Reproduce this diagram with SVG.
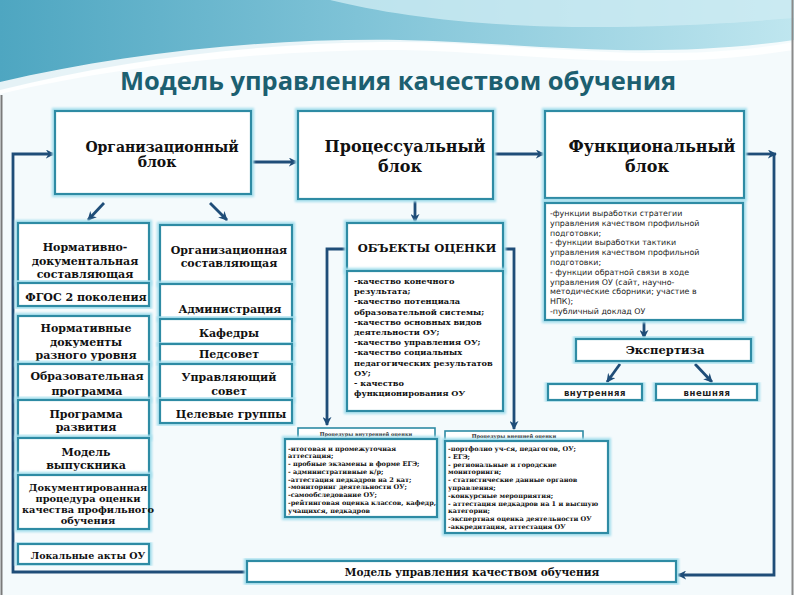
<svg xmlns="http://www.w3.org/2000/svg" width="794" height="595" viewBox="0 0 794 595">
<defs>
<linearGradient id="sky" x1="0" y1="0" x2="1" y2="0">
<stop offset="0" stop-color="#4ea6c1"/>
<stop offset="0.45" stop-color="#7fc3d7"/>
<stop offset="1" stop-color="#bfe6ef"/>
</linearGradient>
<filter id="glow" x="-10%" y="-10%" width="120%" height="120%">
<feMorphology in="SourceAlpha" operator="dilate" radius="1.5" result="d"/>
<feGaussianBlur in="d" stdDeviation="1" result="b"/>
<feFlood flood-color="#a8e0ee"/>
<feComposite in2="b" operator="in" result="c"/>
<feMerge><feMergeNode in="c"/><feMergeNode in="SourceGraphic"/></feMerge>
</filter>
<marker id="ah" viewBox="0 0 10 10" refX="9" refY="5" markerWidth="9" markerHeight="9" markerUnits="userSpaceOnUse" orient="auto">
<path d="M0,0 L10,5 L0,10 L3,5 Z" fill="#1f4d78"/>
</marker>
</defs>
<style>
.box{fill:#ffffff;stroke:#2e8ba4;stroke-width:2.2;filter:url(#glow)}
.thin{fill:#ffffff;stroke:#2e8ba4;stroke-width:1.6}
.con{fill:none;stroke:#1f4d78;stroke-width:2.8;marker-end:url(#ah)}
.sb{font-family:"DejaVu Serif","Liberation Serif",serif;font-weight:bold;fill:#111;text-anchor:middle}
.sl{font-family:"DejaVu Serif","Liberation Serif",serif;font-weight:bold;fill:#111}
.ss{font-family:"DejaVu Sans","Liberation Sans",sans-serif;fill:#222}
</style>
<rect width="794" height="595" fill="#f4fafc"/>
<path d="M0,0 H794 V42 C650,68 520,40 380,42 C250,44 120,60 0,90 Z" fill="url(#sky)"/>
<path d="M330,0 C420,22 560,38 794,18 V0 Z" fill="#cdebf3" opacity="0.8"/>
<path d="M0,82 C120,54 260,38 400,40 C520,42 640,62 794,40 L794,50 C640,74 520,52 400,50 C260,50 120,66 0,94 Z" fill="#ffffff" opacity="0.85"/>
<line x1="1.5" y1="95" x2="1.5" y2="595" stroke="#7a7a7a" stroke-width="2"/>
<line x1="792.5" y1="0" x2="792.5" y2="595" stroke="#8a8a8a" stroke-width="2"/>
<text x="398" y="90" font-family="'Open Sans','Noto Sans',sans-serif" font-weight="bold" font-size="25.5" fill="#1c5f70" text-anchor="middle">Модель управления качеством обучения</text>
<g id="connectors">
<path class="con" d="M246,572 H13 V154 H54"/>
<path class="con" d="M251,162 H297"/>
<path class="con" d="M493,154 H544"/>
<path class="con" d="M744,154 H776"/>
<path class="con" d="M774,154 V575 H678"/>
<path class="con" d="M104,203 L88,220"/>
<path class="con" d="M210,203 L227,220"/>
<path class="con" d="M415,200 V222"/>
<path class="con" d="M347,249 H327 V425"/>
<path class="con" d="M503,249 H514 V429"/>
<path class="con" d="M644,320 V338"/>
<path class="con" d="M620,364 L607,382"/>
<path class="con" d="M695,364 L712,382"/>
</g>
<g id="org-block">
<rect class="box" x="55" y="111" width="196" height="83"/>
<text class="sb" x="162" y="152" font-size="14">Организационный</text>
<text class="sb" x="157" y="167" font-size="14">блок</text>
</g>
<g id="proc-block">
<rect class="box" x="298" y="111" width="195" height="88"/>
<text class="sb" x="405" y="152" font-size="16">Процессуальный</text>
<text class="sb" x="400" y="172" font-size="16">блок</text>
</g>
<g id="func-block">
<rect class="box" x="545" y="111" width="199" height="87"/>
<text class="sb" x="652" y="152" font-size="16">Функциональный</text>
<text class="sb" x="647" y="172" font-size="16">блок</text>
</g>
<g id="norm-doc">
<rect class="box" x="18" y="223" width="131" height="60"/>
<text class="sb" x="85" y="251" font-size="11">Нормативно-</text>
<text class="sb" x="85" y="265" font-size="11">документальная</text>
<text class="sb" x="85" y="278" font-size="11">составляющая</text>
</g>
<g id="fgos">
<rect class="box" x="18" y="283" width="131" height="23"/>
<text class="sb" x="86" y="301" font-size="11">ФГОС 2 поколения</text>
</g>
<g id="norm-levels">
<rect class="box" x="18" y="316" width="131" height="48"/>
<text class="sb" x="86" y="332" font-size="11">Нормативные</text>
<text class="sb" x="86" y="346" font-size="11">документы</text>
<text class="sb" x="86" y="359" font-size="11">разного уровня</text>
</g>
<g id="edu-program">
<rect class="box" x="18" y="364" width="131" height="36"/>
<text class="sb" x="87" y="380" font-size="11">Образовательная</text>
<text class="sb" x="87" y="395" font-size="11">программа</text>
</g>
<g id="dev-program">
<rect class="box" x="18" y="400" width="131" height="38"/>
<text class="sb" x="86" y="418" font-size="11">Программа</text>
<text class="sb" x="86" y="431" font-size="11">развития</text>
</g>
<g id="graduate-model">
<rect class="box" x="18" y="438" width="131" height="37"/>
<text class="sb" x="86" y="456" font-size="11">Модель</text>
<text class="sb" x="86" y="469" font-size="11">выпускника</text>
</g>
<g id="doc-procedure">
<rect class="box" x="18" y="475" width="131" height="54"/>
<text class="sb" x="88" y="491" font-size="9.8">Документированная</text>
<text class="sb" x="88" y="502" font-size="9.8">процедура оценки</text>
<text class="sb" x="88" y="513" font-size="9.8">качества профильного</text>
<text class="sb" x="88" y="524" font-size="9.8">обучения</text>
</g>
<g id="local-acts">
<rect class="box" x="18" y="544" width="131" height="20"/>
<text class="sb" x="88" y="559" font-size="9.5">Локальные акты ОУ</text>
</g>
<g id="org-component">
<rect class="box" x="160" y="225" width="132" height="59"/>
<text class="sb" x="229" y="254" font-size="11">Организационная</text>
<text class="sb" x="229" y="267" font-size="11">составляющая</text>
</g>
<g id="administration">
<rect class="box" x="160" y="284" width="132" height="35"/>
<text class="sb" x="230" y="313" font-size="11">Администрация</text>
</g>
<g id="departments">
<rect class="box" x="160" y="319" width="132" height="25"/>
<text class="sb" x="229" y="337" font-size="11">Кафедры</text>
</g>
<g id="pedsovet">
<rect class="box" x="160" y="344" width="132" height="20"/>
<text class="sb" x="229" y="358" font-size="11">Педсовет</text>
</g>
<g id="board">
<rect class="box" x="160" y="364" width="132" height="36"/>
<text class="sb" x="229" y="381" font-size="11">Управляющий</text>
<text class="sb" x="229" y="395" font-size="11">совет</text>
</g>
<g id="target-groups">
<rect class="box" x="160" y="400" width="132" height="23"/>
<text class="sb" x="231" y="418" font-size="11">Целевые группы</text>
</g>
<g id="objects">
<rect class="box" x="347" y="223" width="156" height="48"/>
<text class="sb" x="427" y="252" font-size="11.5">ОБЪЕКТЫ ОЦЕНКИ</text>
<rect class="box" x="347" y="271" width="156" height="140"/>
<g class="sl" font-size="8.2">
<text x="354" y="284">-качество конечного</text>
<text x="354" y="294.2">результата;</text>
<text x="354" y="304.4">-качество потенциала</text>
<text x="354" y="314.6">образовательной системы;</text>
<text x="354" y="324.8">-качество основных видов</text>
<text x="354" y="335">деятельности ОУ;</text>
<text x="354" y="345.2">-качество управления ОУ;</text>
<text x="354" y="355.4">-качество социальных</text>
<text x="354" y="365.6">педагогических результатов</text>
<text x="354" y="375.8">ОУ;</text>
<text x="354" y="386">- качество</text>
<text x="354" y="396.2">функционирования ОУ</text>
</g>
</g>
<g id="internal-procedures">
<rect class="thin" x="298" y="428" width="137" height="11"/>
<text class="sb" x="366" y="436" font-size="5">Процедуры внутренней оценки</text>
<rect class="box" x="285" y="439" width="152" height="78"/>
<g class="sl" font-size="6.5">
<text x="288" y="450.5">-итоговая и промежуточная</text>
<text x="288" y="458.2">аттестация;</text>
<text x="288" y="466">- пробные экзамены в форме ЕГЭ;</text>
<text x="288" y="473.7">- административные к/р;</text>
<text x="288" y="481.5">-аттестация педкадров на 2 кат;</text>
<text x="288" y="489.2">-мониторинг деятельности ОУ;</text>
<text x="288" y="497">-самообследование ОУ;</text>
<text x="288" y="504.7">-рейтинговая оценка классов, кафедр,</text>
<text x="288" y="512.5">учащихся, педкадров</text>
</g>
</g>
<g id="external-procedures">
<rect class="thin" x="445" y="431" width="138" height="10"/>
<text class="sb" x="514" y="438" font-size="5">Процедуры внешней оценки</text>
<rect class="box" x="445" y="441" width="163" height="92"/>
<g class="sl" font-size="6.5">
<text x="448" y="451">-портфолио уч-ся, педагогов, ОУ;</text>
<text x="448" y="458.8">- ЕГЭ;</text>
<text x="448" y="466.6">- региональные и городские</text>
<text x="448" y="474.4">мониторинги;</text>
<text x="448" y="482.2">- статистические данные органов</text>
<text x="448" y="490">управления;</text>
<text x="448" y="497.8">-конкурсные мероприятия;</text>
<text x="448" y="505.6">- аттестация педкадров на 1 и высшую</text>
<text x="448" y="513.4">категории;</text>
<text x="448" y="521.2">-экспертная оценка деятельности ОУ</text>
<text x="448" y="529">-аккредитация, аттестация ОУ</text>
</g>
</g>
<g id="functions-list">
<rect class="box" x="545" y="203" width="198" height="117"/>
<g class="ss" font-size="7.9">
<text x="550" y="216">-функции выработки стратегии</text>
<text x="550" y="225.8">управления качеством профильной</text>
<text x="550" y="235.6">подготовки;</text>
<text x="550" y="245.4">- функции выработки тактики</text>
<text x="550" y="255.2">управления качеством профильной</text>
<text x="550" y="265">подготовки;</text>
<text x="550" y="274.8">- функции обратной связи в ходе</text>
<text x="550" y="284.6">управления ОУ (сайт, научно-</text>
<text x="550" y="294.4">методические сборники; участие в</text>
<text x="550" y="304.2">НПК);</text>
<text x="550" y="314">-публичный доклад ОУ</text>
</g>
</g>
<g id="expertise">
<rect class="box" x="576" y="339" width="175" height="22"/>
<text class="sb" x="665" y="354" font-size="11.5">Экспертиза</text>
</g>
<g id="internal">
<rect class="box" x="548" y="384" width="94" height="16"/>
<text class="ss" x="595" y="395.5" font-size="8.5" font-weight="bold" text-anchor="middle" letter-spacing="0.6">внутренняя</text>
</g>
<g id="external">
<rect class="box" x="656" y="384" width="101" height="16"/>
<text class="ss" x="707" y="395.5" font-size="8.5" font-weight="bold" text-anchor="middle" letter-spacing="0.6">внешняя</text>
</g>
<g id="model-bottom">
<rect class="box" x="247" y="561" width="429" height="21"/>
<text class="sb" x="472" y="576" font-size="10.5">Модель управления качеством обучения</text>
</g>
</svg>
